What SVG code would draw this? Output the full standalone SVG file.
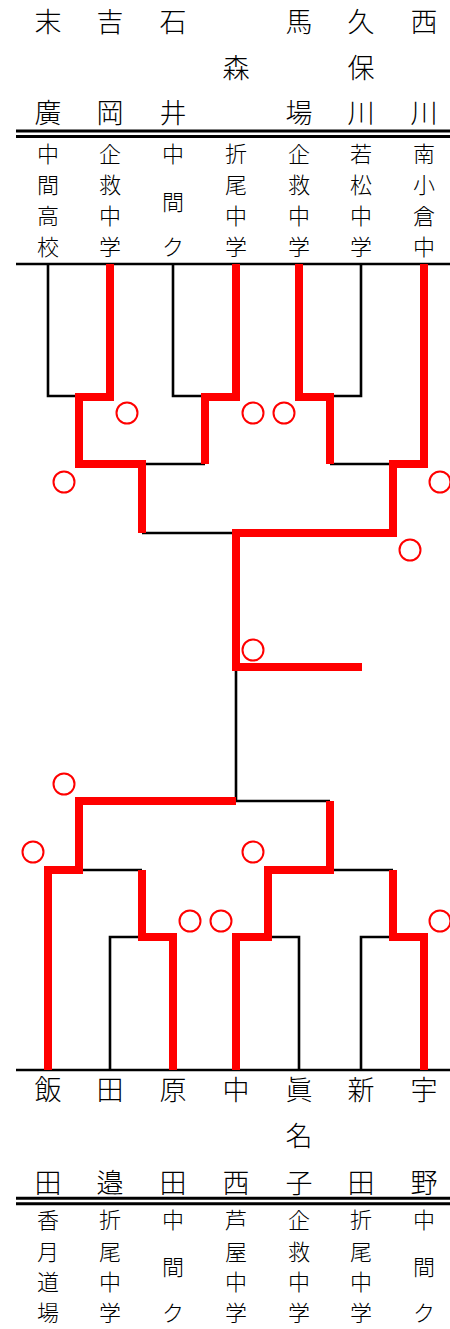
<svg xmlns="http://www.w3.org/2000/svg" width="450" height="1329" viewBox="0 0 450 1329">
<style>
.nm{font-family:"Noto Sans CJK JP","Noto Sans CJK SC",sans-serif;font-size:27px;font-weight:300;fill:#000;text-anchor:middle}
.sc{font-family:"Noto Sans CJK JP","Noto Sans CJK SC",sans-serif;font-size:22px;font-weight:300;fill:#000;text-anchor:middle}
.bk{fill:none;stroke:#000;stroke-width:2.6}
.rd{fill:none;stroke:#f00;stroke-width:8;stroke-linejoin:miter}
.dl{stroke:#000;stroke-width:3}
.ok{fill:none;stroke:#f00;stroke-width:2}
</style>
<rect width="450" height="1329" fill="#fff"/>
<g id="top-names">
<text class="nm"><tspan x="48" y="32">末</tspan><tspan x="48" y="123">廣</tspan></text>
<text class="nm"><tspan x="110" y="32">吉</tspan><tspan x="110" y="123">岡</tspan></text>
<text class="nm"><tspan x="173" y="32">石</tspan><tspan x="173" y="123">井</tspan></text>
<text class="nm"><tspan x="236" y="78">森</tspan></text>
<text class="nm"><tspan x="299" y="32">馬</tspan><tspan x="299" y="123">場</tspan></text>
<text class="nm"><tspan x="361" y="32">久</tspan><tspan x="361" y="78">保</tspan><tspan x="361" y="123">川</tspan></text>
<text class="nm"><tspan x="424" y="32">西</tspan><tspan x="424" y="123">川</tspan></text>
</g>
<g id="top-rule">
<line class="dl" x1="16" y1="131" x2="450" y2="131"/>
<line class="dl" x1="16" y1="136.5" x2="450" y2="136.5"/>
</g>
<g id="top-schools">
<text class="sc"><tspan x="48" y="161.7">中</tspan><tspan x="48" y="193.4">間</tspan><tspan x="48" y="224.2">高</tspan><tspan x="48" y="255.1">校</tspan></text>
<text class="sc"><tspan x="110" y="161.7">企</tspan><tspan x="110" y="193.4">救</tspan><tspan x="110" y="224.2">中</tspan><tspan x="110" y="255.1">学</tspan></text>
<text class="sc"><tspan x="173" y="161.7">中</tspan><tspan x="173" y="210">間</tspan><tspan x="173" y="255.1">ク</tspan></text>
<text class="sc"><tspan x="236" y="161.7">折</tspan><tspan x="236" y="193.4">尾</tspan><tspan x="236" y="224.2">中</tspan><tspan x="236" y="255.1">学</tspan></text>
<text class="sc"><tspan x="299" y="161.7">企</tspan><tspan x="299" y="193.4">救</tspan><tspan x="299" y="224.2">中</tspan><tspan x="299" y="255.1">学</tspan></text>
<text class="sc"><tspan x="361" y="161.7">若</tspan><tspan x="361" y="193.4">松</tspan><tspan x="361" y="224.2">中</tspan><tspan x="361" y="255.1">学</tspan></text>
<text class="sc"><tspan x="424" y="161.7">南</tspan><tspan x="424" y="193.4">小</tspan><tspan x="424" y="224.2">倉</tspan><tspan x="424" y="255.1">中</tspan></text>
</g>
<g id="connectors">
<line class="bk" x1="16" y1="264" x2="450" y2="264" stroke-width="3"/>
<path class="bk" d="M48 264V396H79M173 264V396H205M361 264V396H330M142 464H205M330 464H393M142 533H236M236 667V801H330"/>
<path class="rd" d="M110 264V397H79V464H142V533"/>
<path class="rd" d="M236 264V397H205V464"/>
<path class="rd" d="M299 264V397H330V464"/>
<path class="rd" d="M424 264V464H393V533H236V667H362"/>
<line class="bk" x1="16" y1="1070" x2="450" y2="1070" stroke-width="3"/>
<path class="bk" d="M79 870H142M330 870H393M110 1070V937H142M299 1070V937H268M361 1070V937H393"/>
<path class="rd" d="M48 1070V870H79V801H236"/>
<path class="rd" d="M173 1070V937H142V870"/>
<path class="rd" d="M236 1070V937H268V870H330V801"/>
<path class="rd" d="M424 1070V937H393V870"/>
</g>
<g id="marks">
<circle class="ok" cx="127" cy="413" r="10.5"/>
<circle class="ok" cx="253" cy="413" r="10.5"/>
<circle class="ok" cx="284" cy="413" r="10.5"/>
<circle class="ok" cx="64" cy="482" r="10.5"/>
<circle class="ok" cx="440" cy="482" r="10.5"/>
<circle class="ok" cx="410" cy="550" r="10.5"/>
<circle class="ok" cx="253" cy="650" r="10.5"/>
<circle class="ok" cx="64" cy="784" r="10.5"/>
<circle class="ok" cx="33" cy="852" r="10.5"/>
<circle class="ok" cx="253" cy="852" r="10.5"/>
<circle class="ok" cx="190" cy="921" r="10.5"/>
<circle class="ok" cx="221" cy="921" r="10.5"/>
<circle class="ok" cx="440" cy="921" r="10.5"/>
</g>
<g id="bottom-names">
<text class="nm"><tspan x="48" y="1100">飯</tspan><tspan x="48" y="1193">田</tspan></text>
<text class="nm"><tspan x="110" y="1100">田</tspan><tspan x="110" y="1193">邉</tspan></text>
<text class="nm"><tspan x="173" y="1100">原</tspan><tspan x="173" y="1193">田</tspan></text>
<text class="nm"><tspan x="236" y="1100">中</tspan><tspan x="236" y="1193">西</tspan></text>
<text class="nm"><tspan x="299" y="1100">眞</tspan><tspan x="299" y="1146">名</tspan><tspan x="299" y="1193">子</tspan></text>
<text class="nm"><tspan x="361" y="1100">新</tspan><tspan x="361" y="1193">田</tspan></text>
<text class="nm"><tspan x="424" y="1100">宇</tspan><tspan x="424" y="1193">野</tspan></text>
</g>
<g id="bottom-rule">
<line class="dl" x1="16" y1="1198.3" x2="450" y2="1198.3"/>
<line class="dl" x1="16" y1="1203.7" x2="450" y2="1203.7"/>
</g>
<g id="bottom-schools">
<text class="sc"><tspan x="48" y="1228.4">香</tspan><tspan x="48" y="1260">月</tspan><tspan x="48" y="1290">道</tspan><tspan x="48" y="1321.4">場</tspan></text>
<text class="sc"><tspan x="110" y="1228.4">折</tspan><tspan x="110" y="1260">尾</tspan><tspan x="110" y="1290">中</tspan><tspan x="110" y="1321.4">学</tspan></text>
<text class="sc"><tspan x="173" y="1228.4">中</tspan><tspan x="173" y="1274.6">間</tspan><tspan x="173" y="1321.4">ク</tspan></text>
<text class="sc"><tspan x="236" y="1228.4">芦</tspan><tspan x="236" y="1260">屋</tspan><tspan x="236" y="1290">中</tspan><tspan x="236" y="1321.4">学</tspan></text>
<text class="sc"><tspan x="299" y="1228.4">企</tspan><tspan x="299" y="1260">救</tspan><tspan x="299" y="1290">中</tspan><tspan x="299" y="1321.4">学</tspan></text>
<text class="sc"><tspan x="361" y="1228.4">折</tspan><tspan x="361" y="1260">尾</tspan><tspan x="361" y="1290">中</tspan><tspan x="361" y="1321.4">学</tspan></text>
<text class="sc"><tspan x="424" y="1228.4">中</tspan><tspan x="424" y="1274.6">間</tspan><tspan x="424" y="1321.4">ク</tspan></text>
</g>
</svg>
